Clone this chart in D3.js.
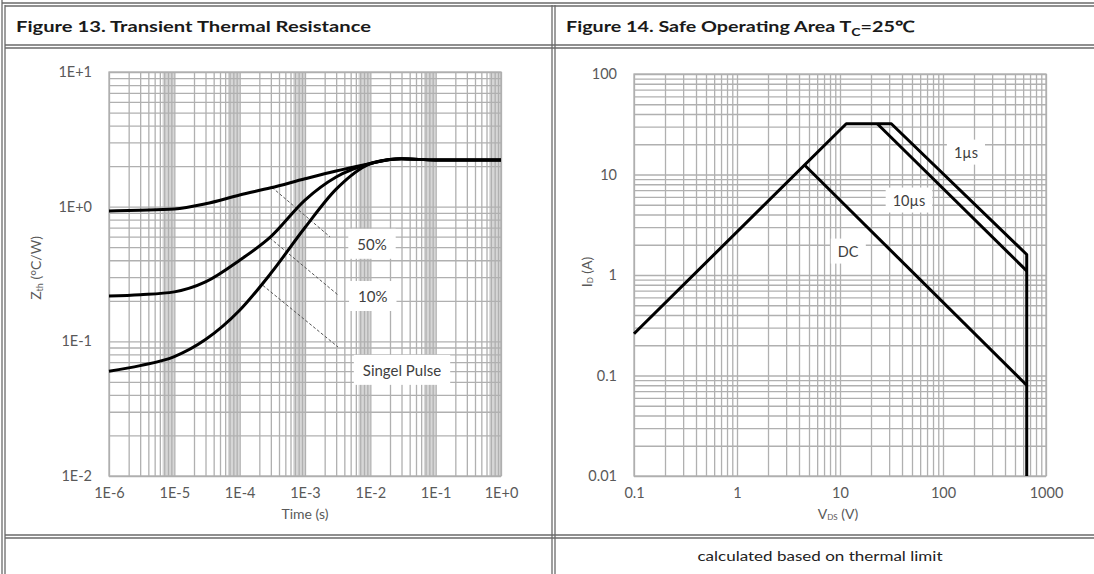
<!DOCTYPE html>
<html><head><meta charset="utf-8">
<script src="https://cdn.jsdelivr.net/npm/d3@7"></script>
<style>body{margin:0;background:#fff}svg{display:block}text{font-family:Lato,"Open Sans",sans-serif}</style>
</head><body>
<svg id="c" width="1094" height="574"></svg>
<script>
// ---------- data: Figure 13 ----------
const times = [1e-6, 3e-6, 1e-5, 3e-5, 1e-4, 3e-4, 1e-3, 3e-3, 1e-2, 2e-2, 3e-2, 1e-1, 1];
const zthSingle = [0.060, 0.066, 0.077, 0.103, 0.17, 0.32, 0.70, 1.35, 2.09, 2.24, 2.27, 2.22, 2.22];
const zth10 = [0.217, 0.222, 0.233, 0.276, 0.40, 0.60, 1.12, 1.66, 2.09, 2.24, 2.27, 2.22, 2.22];
const zth50 = [0.93, 0.94, 0.96, 1.05, 1.22, 1.38, 1.61, 1.84, 2.09, 2.24, 2.27, 2.22, 2.22];
const timeTicks = [1e-6, 1e-5, 1e-4, 1e-3, 1e-2, 1e-1, 1];
const timeTickLabels = ["1E-6", "1E-5", "1E-4", "1E-3", "1E-2", "1E-1", "1E+0"];
const zthTicks = [0.01, 0.1, 1, 10];
const zthTickLabels = ["1E-2", "1E-1", "1E+0", "1E+1"];
const curveNames = ["50%", "10%", "Singel Pulse"];
// leader lines: [time, Z] start on curve -> end near label
const leaderStart = [[3.13e-4, 1.39], [2.9e-4, 0.585], [2.27e-4, 0.26]];
const leaderEnd = [[2.42e-3, 0.596], [3.2e-3, 0.221], [3.2e-3, 0.0908]];
const labelPos = [[1.06e-2, 0.53], [1.09e-2, 0.217], [3.05e-2, 0.0614]];

// ---------- data: Figure 14 ----------
const soa1us = [[0.1, 0.26], [11.5, 32], [31.5, 32], [650, 1.6], [650, 0.01]];
const soa10us = [[23, 32], [650, 1.1]];
const soaDC = [[4.5, 12.5], [650, 0.08]];
const soaNames = ["1µs", "10µs", "DC"];
const soaLabelPos = [[167, 16.7], [46.7, 5.57], [12, 1.73]];
const vTicks = [0.1, 1, 10, 100, 1000];
const vTickLabels = ["0.1", "1", "10", "100", "1000"];
const iTicks = [0.01, 0.1, 1, 10, 100];
const iTickLabels = ["0.01", "0.1", "1", "10", "100"];

const svg = d3.select("#c");
const tickCol = "#595959", gridCol = "#b0b0b0";

function minors(lo, hi) { // all 1..9 multiples between decades
  const out = [];
  for (let e = Math.round(Math.log10(lo)); e < Math.round(Math.log10(hi)); e++)
    for (let m = 1; m <= 9; m++) out.push(m * Math.pow(10, e));
  out.push(hi);
  return out;
}

function drawPanel(o) {
  const g = svg.append("g");
  const x = d3.scaleLog().domain(o.xd).range(o.xr);
  const y = d3.scaleLog().domain(o.yd).range(o.yr);
  if (o.bands) {
    const dec = timeTicks.slice(0, -1);
    g.selectAll("rect.band").data(dec).join("rect")
      .attr("x", d => x(d * 6.6)).attr("width", d => x(d * 10) - x(d * 6.6))
      .attr("y", o.yr[1]).attr("height", o.yr[0] - o.yr[1]).attr("fill", "#d6d6d6");
  }
  const gx = g.append("g").attr("transform", `translate(0,${o.yr[0]})`)
    .call(d3.axisBottom(x).tickValues(minors(o.xd[0], o.xd[1])).tickSize(-(o.yr[0] - o.yr[1])).tickFormat(""));
  const gy = g.append("g").attr("transform", `translate(${o.xr[0]},0)`)
    .call(d3.axisLeft(y).tickValues(minors(o.yd[0], o.yd[1])).tickSize(-(o.xr[1] - o.xr[0])).tickFormat(""));
  [gx, gy].forEach(a => { a.selectAll("line").attr("stroke", gridCol).attr("stroke-width", 1.3); a.select(".domain").remove(); });
  g.append("rect").attr("x", o.xr[0]).attr("y", o.yr[1]).attr("width", o.xr[1] - o.xr[0]).attr("height", o.yr[0] - o.yr[1])
    .attr("fill", "none").attr("stroke", gridCol).attr("stroke-width", 1.3);
  const lx = g.append("g").attr("transform", `translate(0,${o.yr[0] + 9})`)
    .call(d3.axisBottom(x).tickValues(o.xt).tickSize(0).tickFormat((d, i) => o.xtl[i]));
  const ly = g.append("g").attr("transform", `translate(${o.xr[0] - 14},0)`)
    .call(d3.axisLeft(y).tickValues(o.yt).tickSize(0).tickFormat((d, i) => o.ytl[i]));
  [lx, ly].forEach(a => { a.select(".domain").remove(); a.selectAll("text").attr("fill", tickCol).style("font-size", "14.5px").style("font-family", "Lato"); });
  return { g, x, y };
}

// ---------- table frame ----------
const frame = svg.append("g").attr("stroke", "#6a6a6a").attr("stroke-width", 1.3);
[[2, 0, 2, 574], [5, 5, 5, 574], [552, 5, 552, 574], [555, 5, 555, 574],
 [2, 3, 1094, 3], [5, 6, 1094, 6], [5, 45, 1094, 45], [5, 48, 1094, 48],
 [5, 535, 1094, 535], [5, 538, 1094, 538]].forEach(l =>
  frame.append("line").attr("x1", l[0]).attr("y1", l[1]).attr("x2", l[2]).attr("y2", l[3]));

// titles
svg.append("text").attr("x", 16).attr("y", 32).attr("fill", "#1a1a1a").style("font-weight", "bold").style("font-size", "15.5px")
  .attr("textLength", 355).attr("lengthAdjust", "spacingAndGlyphs").text("Figure 13. Transient Thermal Resistance");
const t2 = svg.append("text").attr("x", 566).attr("y", 32).attr("fill", "#1a1a1a").style("font-weight", "bold").style("font-size", "15.5px")
  .attr("textLength", 348).attr("lengthAdjust", "spacingAndGlyphs");
t2.append("tspan").text("Figure 14. Safe Operating Area T");
t2.append("tspan").attr("dy", 4).style("font-size", "11px").text("C");
t2.append("tspan").attr("dy", -4).text("=25℃");
svg.append("text").attr("x", 820).attr("y", 561).attr("text-anchor", "middle").attr("fill", "#222").style("font-size", "13.5px")
  .attr("textLength", 245).attr("lengthAdjust", "spacingAndGlyphs").text("calculated based on thermal limit");

// ---------- Figure 13 ----------
const L = drawPanel({ xd: [1e-6, 1], xr: [109, 501], yd: [0.01, 10], yr: [476, 72], bands: true,
  xt: timeTicks, xtl: timeTickLabels, yt: zthTicks, ytl: zthTickLabels });
L.g.append("text").attr("x", 305).attr("y", 519).attr("text-anchor", "middle").attr("fill", tickCol).style("font-size", "14px").text("Time (s)");
const yl = L.g.append("text").attr("transform", "translate(41,268) rotate(-90)").attr("text-anchor", "middle").attr("fill", tickCol).style("font-size", "14px");
yl.append("tspan").text("Z");
yl.append("tspan").style("font-size", "9px").attr("dy", 2).text("th");
yl.append("tspan").attr("dy", -2).text(" (°C/W)");

L.g.selectAll("line.lead").data(leaderStart).join("line")
  .attr("x1", d => L.x(d[0])).attr("y1", d => L.y(d[1]))
  .attr("x2", (d, i) => L.x(leaderEnd[i][0])).attr("y2", (d, i) => L.y(leaderEnd[i][1]))
  .attr("stroke", "#555").attr("stroke-width", 1).attr("stroke-dasharray", "3,2");
const labG = L.g.selectAll("g.lab").data(curveNames).join("g");
labG.each(function (d, i) {
  const gg = d3.select(this);
  const t = gg.append("text").attr("x", L.x(labelPos[i][0])).attr("y", L.y(labelPos[i][1]))
    .attr("text-anchor", "middle").attr("dominant-baseline", "central").attr("fill", "#404040").style("font-size", "15px").text(d);
  const b = t.node().getBBox();
  gg.insert("rect", "text").attr("x", b.x - 9).attr("y", b.y - 6).attr("width", b.width + 18).attr("height", b.height + 12).attr("fill", "#fff");
});

const line13 = d3.line().x(d => L.x(d[0])).y(d => L.y(d[1])).curve(d3.curveMonotoneX);
[zth50, zth10, zthSingle].forEach(s => {
  L.g.append("path").attr("d", line13(times.map((t, i) => [t, s[i]])))
    .attr("fill", "none").attr("stroke", "#000").attr("stroke-width", 3);
});

// ---------- Figure 14 ----------
const R = drawPanel({ xd: [0.1, 1000], xr: [634, 1046], yd: [0.01, 100], yr: [476, 74], bands: false,
  xt: vTicks, xtl: vTickLabels, yt: iTicks, ytl: iTickLabels });
const xl = R.g.append("text").attr("x", 838).attr("y", 519).attr("text-anchor", "middle").attr("fill", tickCol).style("font-size", "14px");
xl.append("tspan").text("V");
xl.append("tspan").style("font-size", "8px").attr("dy", 1).text("DS");
xl.append("tspan").attr("dy", -1).text(" (V)");
const yl2 = R.g.append("text").attr("transform", "translate(592,272) rotate(-90)").attr("text-anchor", "middle").attr("fill", tickCol).style("font-size", "14px");
yl2.append("tspan").text("I");
yl2.append("tspan").style("font-size", "8px").attr("dy", 1).text("D");
yl2.append("tspan").attr("dy", -1).text(" (A)");

const rLab = R.g.selectAll("g.lab").data(soaNames).join("g");
rLab.each(function (d, i) {
  const gg = d3.select(this);
  const t = gg.append("text").attr("x", R.x(soaLabelPos[i][0])).attr("y", R.y(soaLabelPos[i][1]))
    .attr("text-anchor", "middle").attr("dominant-baseline", "central").attr("fill", "#404040").style("font-size", "14.5px").text(d);
  const b = t.node().getBBox();
  gg.insert("rect", "text").attr("x", b.x - 7).attr("y", b.y - 4).attr("width", b.width + 14).attr("height", b.height + 8).attr("fill", "#fff");
});
const line14 = d3.line().x(d => R.x(d[0])).y(d => R.y(d[1]));
[soa1us, soa10us, soaDC].forEach(s => {
  R.g.append("path").attr("d", line14(s)).attr("fill", "none").attr("stroke", "#000").attr("stroke-width", 3).attr("stroke-linejoin", "round");
});
</script>
</body></html>
